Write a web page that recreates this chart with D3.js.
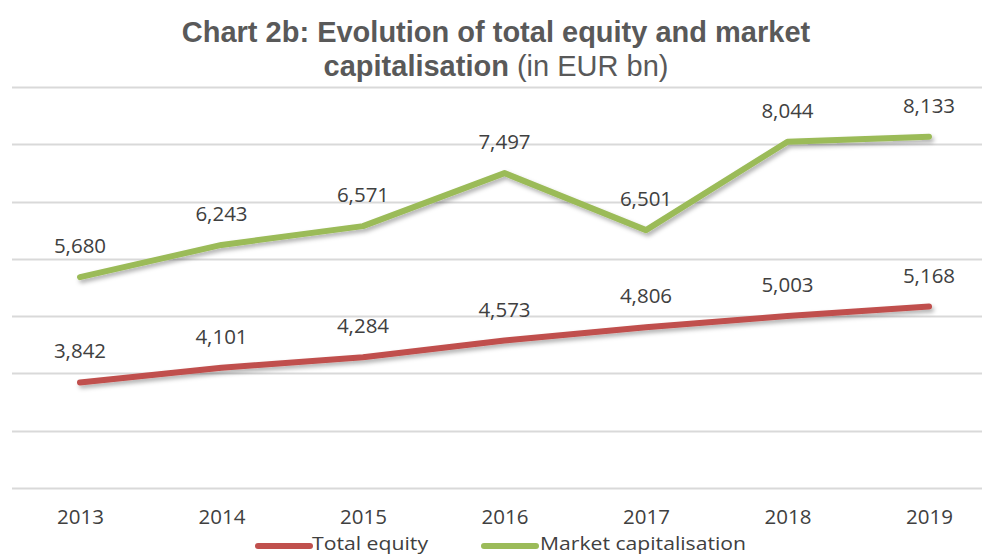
<!DOCTYPE html>
<html><head><meta charset="utf-8">
<script src="https://cdn.jsdelivr.net/npm/d3@7"></script>
<style>body{margin:0;background:#fff}svg{display:block}</style>
</head><body>
<svg id="c" width="982" height="555"></svg>
<script>
const years = ["2013","2014","2015","2016","2017","2018","2019"];
const totalEquity = [3842,4101,4284,4573,4806,5003,5168];
const marketCap = [5680,6243,6571,7497,6501,8044,8133];
const yTicks = [2000,3000,4000,5000,6000,7000,8000,9000];
const seriesNames = ["Total equity","Market capitalisation"];
const seriesColors = ["#C0504D","#9BBB59"];

const svg = d3.select("#c");
const x = d3.scalePoint().domain(years).range([80,929]);
const y = d3.scaleLinear().domain([2000,9000]).range([488,87]);
const FS = 20.5;

const defs = svg.append("defs");
const f = defs.append("filter").attr("id","sh").attr("x","-10%").attr("y","-30%").attr("width","130%").attr("height","180%");
f.append("feDropShadow").attr("dx",2).attr("dy",3).attr("stdDeviation",2).attr("flood-color","#000").attr("flood-opacity",0.3);

// gridlines
svg.append("g").selectAll("line").data(yTicks).join("line")
  .attr("x1",12).attr("x2",982).attr("y1",d=>Math.round(y(d))+0.5).attr("y2",d=>Math.round(y(d))+0.5)
  .attr("stroke","#d9d9d9").attr("stroke-width",2);

// x axis labels
const xAxis = d3.axisBottom(x).tickSize(0).tickPadding(0);
const gx = svg.append("g").attr("transform","translate(0,509.5)").call(xAxis);
gx.select(".domain").remove();
gx.selectAll("text").attr("font-family","'Open Sans', sans-serif").attr("font-size",FS).attr("fill","#404040").attr("dy","0.71em");

// title
const t = svg.append("text").attr("text-anchor","middle").attr("font-family","'Liberation Sans', Arial, sans-serif")
  .attr("fill","#595959").attr("font-size",29);
t.append("tspan").attr("x",496).attr("y",42).attr("font-weight","bold").text("Chart 2b: Evolution of total equity and market");
const t2 = t.append("tspan").attr("x",496).attr("y",76);
t2.append("tspan").attr("font-weight","bold").text("capitalisation");
t2.append("tspan").text(" (in EUR bn)");

const line = d3.line().x((d,i)=>x(years[i])).y(d=>y(d));
const data = [totalEquity, marketCap];
const fmt = d3.format(",");
data.forEach((vals,k)=>{
  svg.append("path").datum(vals).attr("d",line).attr("fill","none")
    .attr("stroke",seriesColors[k]).attr("stroke-width",6).attr("stroke-linecap","round").attr("stroke-linejoin","round")
    .attr("filter","url(#sh)");
});
data.forEach((vals,k)=>{
  svg.append("g").selectAll("text").data(vals).join("text")
    .attr("x",(d,i)=>x(years[i])).attr("y",d=>y(d)-24).attr("text-anchor","middle")
    .attr("font-family","'Open Sans', sans-serif").attr("font-size",FS).attr("fill","#404040")
    .text(d=>fmt(d));
});

// legend
const legend = [{x:258,tx:312,w:52},{x:484,tx:540,w:52}];
legend.forEach((l,k)=>{
  svg.append("line").attr("x1",l.x).attr("x2",l.x+l.w).attr("y1",546).attr("y2",546)
    .attr("stroke",seriesColors[k]).attr("stroke-width",6).attr("stroke-linecap","round");
  svg.append("text").attr("x",l.tx).attr("y",549.5).attr("font-family","'Open Sans', sans-serif")
    .attr("font-size",18.8).attr("fill","#404040").attr("textLength", k===0?116:206).attr("lengthAdjust","spacingAndGlyphs")
    .text(seriesNames[k]);
});
</script>
</body></html>
